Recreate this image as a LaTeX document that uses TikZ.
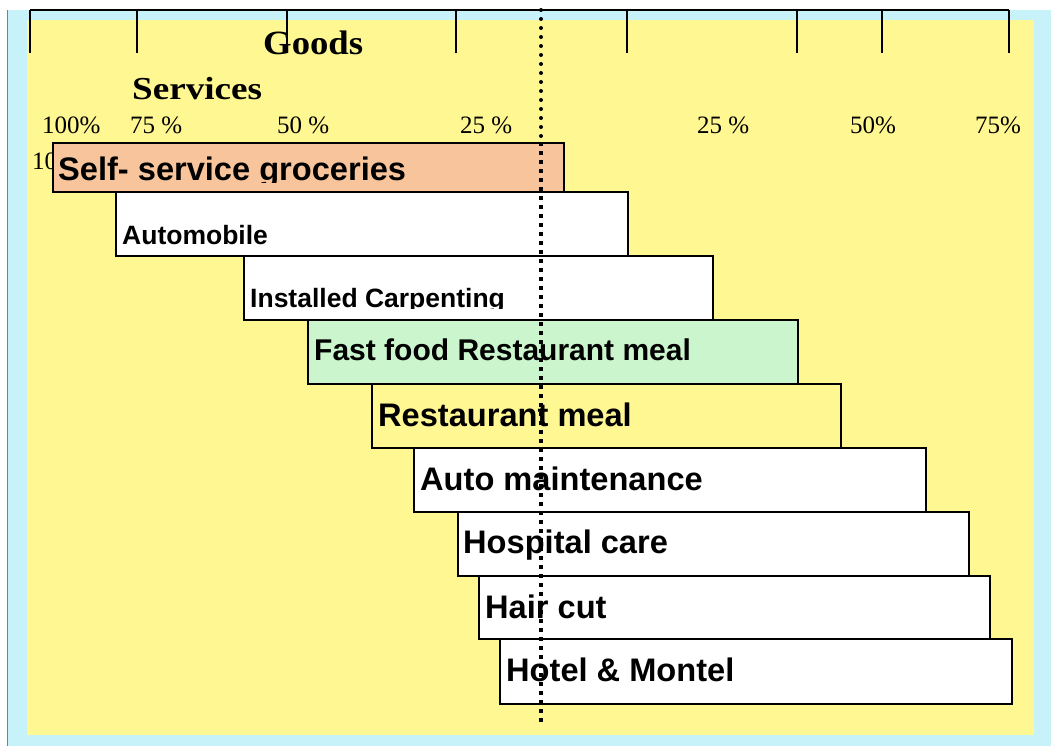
\documentclass[tikz,border=0pt]{standalone}
\usepackage{fontspec}
\setmainfont{Liberation Serif}
\setsansfont{Liberation Sans}
\definecolor{bgyellow}{RGB}{255,247,145}
\definecolor{framecyan}{RGB}{200,242,250}
\definecolor{orangefill}{RGB}{247,196,156}
\definecolor{greenfill}{RGB}{202,245,205}
\begin{document}
\begin{tikzpicture}[x=1pt,y=-1pt,
  rowbox/.style={draw=black, line width=1.8pt, rectangle, inner sep=0pt, anchor=north west},
  rowtext/.style={inner sep=0pt, anchor=base west, text=black},
  bigtext/.style={rowtext, font=\sffamily\bfseries\fontsize{32.6}{38}\selectfont},
  midtext/.style={rowtext, font=\sffamily\bfseries\fontsize{30}{36}\selectfont},
  smalltext/.style={rowtext, font=\sffamily\bfseries\fontsize{26.5}{32}\selectfont},
  pct/.style={inner sep=0pt, anchor=base west, font=\rmfamily\fontsize{25}{30}\selectfont},
  axistick/.style={line width=1.6pt},
  ]
\useasboundingbox (0,0) rectangle (1051,746);
\fill[white] (0,0) rectangle (1051,746);
\fill[framecyan] (7,10) rectangle (1051,746);
\draw[gray, line width=0.8pt] (7,10) -- (7,746);
\fill[bgyellow] (27,20) rectangle (1034,735);
% axis
\draw[axistick] (30,10) -- (1009,10);
\foreach \tx in {30,137,287,456,627,797,882,1009}
  \draw[axistick] (\tx,10) -- (\tx,53);
% headings
\node[inner sep=0pt, anchor=base west, font=\rmfamily\bfseries\fontsize{34}{38}\selectfont] (goods) at (263,55) {\scalebox{1.08}[1]{Goods}};
\node[inner sep=0pt, anchor=base west, font=\rmfamily\bfseries\fontsize{32}{36}\selectfont] (services) at (132,100) {\scalebox{1.16}[1]{Services}};
% percent labels
\node[pct] (p100) at (42,134) {100\%};
\node[pct] (p75l) at (130,134) {75 \%};
\node[pct] (p50l) at (277,134) {50 \%};
\node[pct] (p25l) at (460,134) {25 \%};
\node[pct] (p25r) at (697,134) {25 \%};
\node[pct] (p50r) at (850,134) {50\%};
\node[pct] (p75r) at (975,134) {75\%};
\node[pct] (p100h) at (32,170) {100\%};
% rows
\node[rowbox, fill=orangefill, minimum width=511pt, minimum height=49pt] (r1) at (52,142) {};
\begin{scope}
  \clip (52,142) rectangle (563,182.5);
  \node[bigtext] (r1t) at (58,181) {Self- service groceries};
\end{scope}
\node[rowbox, fill=white, minimum width=512pt, minimum height=64pt] (r2) at (115,191) {};
\node[smalltext] (r2t) at (122,244) {Automobile};
\begin{scope}
\node[rowbox, fill=white, minimum width=469pt, minimum height=64pt] (r3) at (243,255) {};
  \clip (243,255) rectangle (712,308.5);
  \node[smalltext] (r3t) at (250,307) {Installed Carpenting};
\end{scope}
\node[rowbox, fill=greenfill, minimum width=490pt, minimum height=64pt] (r4) at (307,319) {};
\node[midtext] (r4t) at (314,360) {Fast food Restaurant meal};
\node[rowbox, fill=bgyellow, minimum width=469pt, minimum height=64pt] (r5) at (371,383) {};
\node[bigtext] (r5t) at (378,426) {Restaurant meal};
\node[rowbox, fill=white, minimum width=512pt, minimum height=64pt] (r6) at (413,447) {};
\node[bigtext] (r6t) at (420,490) {Auto maintenance};
\node[rowbox, fill=white, minimum width=511pt, minimum height=64pt] (r7) at (457,511) {};
\node[bigtext] (r7t) at (463,553) {Hospital care};
\node[rowbox, fill=white, minimum width=511pt, minimum height=63pt] (r8) at (478,575) {};
\node[bigtext] (r8t) at (485,618) {Hair cut};
\node[rowbox, fill=white, minimum width=512pt, minimum height=65pt] (r9) at (499,638) {};
\node[bigtext] (r9t) at (506,681) {Hotel \& Montel};
% dividing dotted line
\coordinate (dtop) at (541,10);
\coordinate (dmid) at (541,142);
\coordinate (dbot) at (541,722);
\draw[line width=4pt, line cap=round, dash pattern=on 0pt off 9pt] (dtop) -- (dmid);
\draw[line width=4pt, dash pattern=on 4pt off 5pt] (dmid) -- (dbot);
\end{tikzpicture}
\end{document}
